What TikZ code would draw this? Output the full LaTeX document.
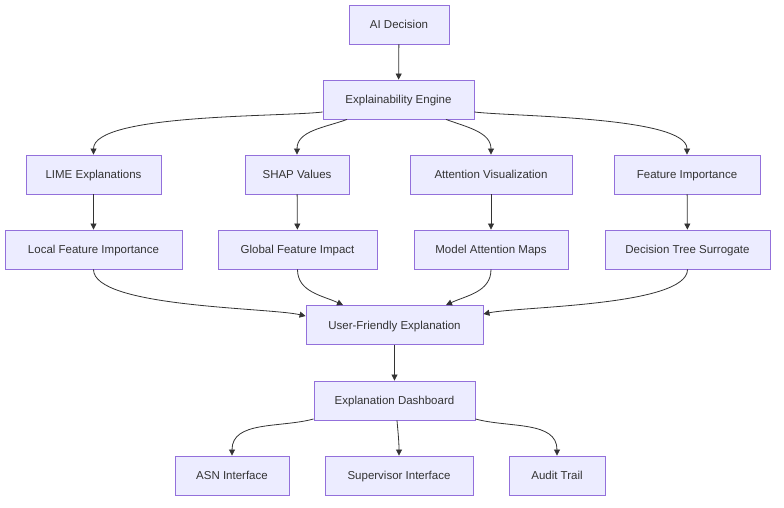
\documentclass[tikz,border=0pt]{standalone}
\usepackage{fontspec}
\setmainfont{Liberation Sans}
\usetikzlibrary{arrows.meta}
\definecolor{boxfill}{HTML}{ECECFF}
\definecolor{boxline}{HTML}{9370DB}
\definecolor{inktext}{HTML}{333333}
\tikzset{
  blk/.style={draw=boxline,fill=boxfill,line width=0.9pt,text=inktext,
    minimum height=39pt,inner sep=0pt,text height=8.5pt,text depth=0.5pt,
    font=\fontsize{11.5}{13}\selectfont},
  arr/.style={draw=inktext,line width=0.8pt,-{Triangle[length=6pt,width=6pt]}}
}
\begin{document}
\begin{tikzpicture}[x=1pt,y=-1pt]
\useasboundingbox[fill=white] (0,0) rectangle (784,507);
% top
\node[blk,minimum width=100pt] (dec) at (399,24.5) {AI Decision};
\node[blk,minimum width=151pt] (eng) at (398.5,99.5) {Explainability Engine};
% methods
\node[blk,minimum width=135pt] (lime) at (93.5,174.5) {LIME Explanations};
\node[blk,minimum width=104pt] (shap) at (297,174.5) {SHAP Values};
\node[blk,minimum width=162pt] (att) at (491,174.5) {Attention Visualization};
\node[blk,minimum width=146pt] (feat) at (687,174.5) {Feature Importance};
% outputs
\node[blk,minimum width=177pt] (loc) at (93.5,249.5) {Local Feature Importance};
\node[blk,minimum width=159pt] (glob) at (297.5,249.5) {Global Feature Impact};
\node[blk,minimum width=154pt] (maps) at (491,249.5) {Model Attention Maps};
\node[blk,minimum width=165pt] (tree) at (687.5,249.5) {Decision Tree Surrogate};
% explanation
\node[blk,minimum width=177pt] (ufe) at (394.5,325) {User-Friendly Explanation};
\node[blk,minimum width=161pt] (dash) at (394.5,400.5) {Explanation Dashboard};
% interfaces
\node[blk,minimum width=114pt] (asn) at (232,475.5) {ASN Interface};
\node[blk,minimum width=148pt] (sup) at (399,475.5) {Supervisor Interface};
\node[blk,minimum width=96pt] (aud) at (557,475.5) {Audit Trail};
% connectors
\draw[arr] (dec) -- (eng);
\draw[arr] (eng.west|-0,112) to[out=187,in=90,looseness=0.45] (lime.north);
\draw[arr] (eng.south west-|347,0) to[out=200,in=90] (shap.north);
\draw[arr] (eng.south east-|446,0) to[out=-20,in=90] (att.north);
\draw[arr] (eng.east|-0,112) to[out=-7,in=90,looseness=0.45] (feat.north);
\draw[arr] (lime) -- (loc);
\draw[arr] (shap) -- (glob);
\draw[arr] (att) -- (maps);
\draw[arr] (feat) -- (tree);
\draw[arr] (loc.south) to[out=-90,in=167,looseness=0.45] (ufe.west|-0,316);
\draw[arr] (glob.south) to[out=-90,in=155] (ufe.north-|343,0);
\draw[arr] (maps.south) to[out=-90,in=25] (ufe.north-|446,0);
\draw[arr] (tree.south) to[out=-90,in=12,looseness=0.45] (ufe.east|-0,314);
\draw[arr] (ufe) -- (dash);
\draw[arr] (dash.south west|-0,419) to[out=195,in=90] (asn.north);
\draw[arr] (dash.south-|397,0) to[out=-85,in=90] (sup.north);
\draw[arr] (dash.south east|-0,419) to[out=-15,in=90] (aud.north);
\end{tikzpicture}
\end{document}
